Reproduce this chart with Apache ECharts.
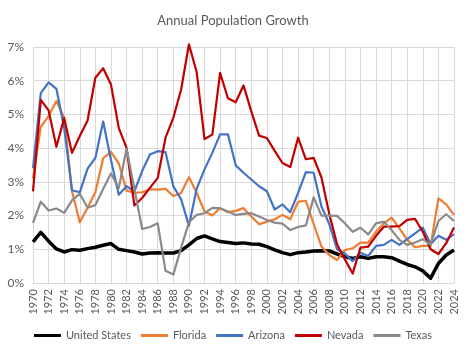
<!DOCTYPE html>
<html><head><meta charset="utf-8">
<script src="https://cdn.jsdelivr.net/npm/echarts@6/dist/echarts.min.js"></script>
<style>html,body{margin:0;padding:0;background:#fff}#c{width:466px;height:352px}</style>
</head><body><div id="c"></div>
<script>
const years = [];
for (let y = 1970; y <= 2024; y++) years.push(String(y));

const unitedStates = [1.22,1.50,1.24,1.01,0.92,0.99,0.97,1.02,1.06,1.12,
  1.17,1.00,0.96,0.92,0.86,0.89,0.90,0.89,0.89,0.96,
  1.13,1.32,1.40,1.31,1.23,1.20,1.17,1.19,1.16,1.15,
  1.08,0.98,0.90,0.84,0.90,0.92,0.95,0.96,0.95,0.86,
  0.78,0.73,0.78,0.73,0.78,0.78,0.75,0.65,0.55,0.48,
  0.36,0.14,0.58,0.83,0.98];
const florida = [3.10,4.63,4.95,5.40,4.90,2.72,1.80,2.23,2.69,3.70,
  3.89,3.55,2.74,2.68,2.69,2.78,2.77,2.79,2.58,2.67,
  3.14,2.67,2.12,2.00,2.22,2.10,2.14,2.22,1.97,1.74,
  1.82,1.89,2.02,1.89,2.41,2.44,1.75,1.08,0.83,0.68,
  0.98,1.03,1.20,1.20,1.52,1.77,1.94,1.62,1.28,1.06,
  1.10,1.10,2.51,2.33,2.02];
const arizona = [3.40,5.63,5.95,5.76,4.60,2.75,2.69,3.39,3.71,4.79,
  3.65,2.62,2.87,2.72,3.32,3.81,3.91,3.88,2.87,2.48,
  1.70,2.80,3.37,3.86,4.41,4.41,3.49,3.27,3.07,2.87,
  2.72,2.18,2.33,2.10,2.67,3.29,3.27,2.27,1.75,1.00,
  0.87,0.65,0.90,0.80,1.10,1.13,1.28,1.13,1.30,1.47,
  1.64,1.15,1.40,1.28,1.45];
const nevada = [2.72,5.43,5.12,4.04,4.89,3.86,4.36,4.82,6.09,6.37,
  5.89,4.60,4.01,2.30,2.52,2.82,3.12,4.31,4.90,5.74,
  7.08,6.25,4.27,4.40,6.23,5.48,5.36,5.86,5.09,4.37,
  4.30,3.92,3.56,3.44,4.31,3.67,3.71,3.13,2.05,1.15,
  0.70,0.28,1.05,1.08,1.40,1.67,1.67,1.69,1.87,1.90,
  1.52,1.00,0.86,1.18,1.65];
const texas = [1.78,2.41,2.15,2.21,2.08,2.45,2.65,2.23,2.31,2.79,
  3.25,2.82,3.98,2.80,1.60,1.66,1.77,0.36,0.25,1.05,
  1.80,2.02,2.07,2.23,2.22,2.12,2.02,2.05,2.07,1.97,
  1.87,1.79,1.76,1.57,1.66,1.71,2.54,2.00,2.00,1.99,
  1.77,1.52,1.64,1.44,1.77,1.82,1.57,1.28,1.13,1.20,
  1.30,1.13,1.84,2.04,1.84];
const yTicks = [0,1,2,3,4,5,6,7];

const seriesDefs = [
  {name:'United States', data:unitedStates, color:'#000000', width:3.5},
  {name:'Florida', data:florida, color:'#ED7D31', width:2.2},
  {name:'Arizona', data:arizona, color:'#4472C4', width:2.2},
  {name:'Nevada', data:nevada, color:'#C00000', width:2.2},
  {name:'Texas', data:texas, color:'#8A8A8A', width:2.2}
];

const font = 'Lato, "Open Sans", sans-serif';
const chart = echarts.init(document.getElementById('c'), null, {renderer:'canvas'});
chart.setOption({
  animation:false,
  backgroundColor:'#fff',
  title:{text:'Annual Population Growth', left:'center', top:9,
    textStyle:{fontFamily:font, fontSize:13, fontWeight:'normal', color:'#595959'}},
  legend:{bottom:6, left:'center', itemWidth:27, itemHeight:3, itemGap:10,
    icon:'rect',
    textStyle:{fontFamily:font, fontSize:11, color:'#595959'},
    data:seriesDefs.map(s=>s.name)},
  grid:{left:33, right:12, top:47, bottom:69},
  xAxis:{type:'category', data:years, boundaryGap:false,
    axisLine:{show:true, lineStyle:{color:'#D9D9D9'}},
    axisTick:{show:false},
    axisLabel:{interval:1, rotate:90, fontFamily:font, fontSize:11, color:'#595959', margin:6},
    splitLine:{show:true, interval:1, lineStyle:{color:'#D9D9D9', width:1}}},
  yAxis:{type:'value', min:yTicks[0], max:yTicks[yTicks.length-1], interval:1,
    axisLine:{show:false}, axisTick:{show:false},
    axisLabel:{formatter:'{value}%', fontFamily:font, fontSize:12, color:'#595959', margin:9},
    splitLine:{lineStyle:{color:'#D9D9D9', width:1}}},
  series:seriesDefs.map(s=>({
    name:s.name, type:'line', data:s.data, symbol:'none', clip:false,
    itemStyle:{color:s.color},
    lineStyle:{color:s.color, width:s.width, join:'round'}
  }))
});
</script></body></html>
